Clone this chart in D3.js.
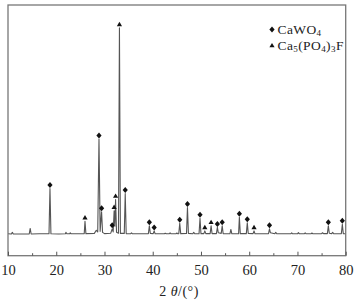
<!DOCTYPE html>
<html><head><meta charset="utf-8">
<script src="https://cdn.jsdelivr.net/npm/d3@7"></script>
<style>body{margin:0;background:#fff}svg{display:block}</style>
</head><body>
<script>
// XRD pattern points (2θ, intensity)
const xrdTheta = [10,10.7,10.9,11.1,12.5,14.4,14.6,14.8,16.5,18.5,18.7,18.9,20.5,21.9,22.0,22.2,22.8,22.9,23.1,25.0,25.8,25.96,26.15,27.9,28.3,28.6,28.86,29.1,29.4,29.6,30.0,31.3,31.6,31.8,32.0,32.15,32.3,32.5,32.9,33.1,33.3,34.1,34.3,34.5,35.4,35.6,35.8,37.5,39.1,39.3,39.5,40.1,40.3,40.5,42.4,42.6,42.8,43.4,43.6,43.8,44.8,45.0,45.2,45.4,45.6,45.8,47.0,47.2,47.4,48.3,48.5,48.7,49.6,49.8,50.0,50.6,50.8,51.0,51.9,52.1,52.3,53.2,53.4,53.6,54.2,54.4,54.6,56.0,56.2,56.4,57.8,57.96,58.15,59.4,59.6,59.8,60.8,61.0,61.2,62.5,64.0,64.2,64.4,65.3,65.5,65.7,67.0,68.6,68.8,69.0,70.0,70.2,70.4,71.4,71.6,71.8,72.8,73.0,73.2,75.0,75.2,75.4,76.2,76.4,76.6,77.1,77.3,77.5,79.1,79.3,79.5,80];
const xrdIntensity = [3,2,10,2,2,2,29,2,3,3,222,3,2,3,10,3,3,8,3,3,4,64,4,5,20,12,462,15,110,10,4,6,27,12,115,40,169,10,6,1000,5,5,198,4,3,8,3,3,4,42,5,4,17,3,3,6,3,3,8,3,3,7,3,4,54,4,5,130,5,3,10,3,4,78,4,4,17,4,4,42,4,4,34,8,5,42,4,3,24,3,4,83,4,4,56,5,4,17,3,3,4,27,8,3,10,3,3,3,8,3,3,9,3,3,8,3,3,7,3,4,8,4,4,42,6,4,10,3,4,49,4,3];

// CaWO4 markers (♦)
const cawo4Theta = [18.7,28.86,29.4,31.6,34.3,39.3,40.3,45.6,47.2,49.8,53.4,54.4,57.96,59.6,64.2,76.4,79.3];
const cawo4Intensity = [222,462,110,27,198,42,17,54,130,78,34,42,83,56,27,42,49];
// Ca5(PO4)3F markers (▲)
const fapTheta = [25.96,32.0,32.3,33.1,50.8,52.1,61.0];
const fapIntensity = [64,115,169,1000,17,42,17];

const xTicks = [10,20,30,40,50,60,70,80];
const xMinorTicks = [15,25,35,45,55,65,75];

const W = 360, H = 302;
const mLeft = 8, mRight = 345.7, mTop = 5, mBottom = 255.7;

const svg = d3.select("body").append("svg").attr("width", W).attr("height", H);

const x = d3.scaleLinear().domain([10, 80]).range([mLeft, mRight]);
const y = d3.scaleLinear().domain([-103, 1111]).range([mBottom, mTop]);

// line
const line = d3.line().x((d) => x(d[0])).y((d) => y(d[1]));
const pts = xrdTheta.map((t, i) => [t, xrdIntensity[i]]);
svg.append("path").datum(pts).attr("d", line)
  .attr("fill", "none").attr("stroke", "#555").attr("stroke-width", 1.1).attr("stroke-linejoin", "round");

// frame
svg.append("rect").attr("x", mLeft).attr("y", mTop).attr("width", mRight - mLeft).attr("height", mBottom - mTop)
  .attr("fill", "none").attr("stroke", "#777").attr("stroke-width", 1.3);

// axis
const serif = "'Liberation Serif', 'Times New Roman', serif";
const axis = d3.axisBottom(x).tickValues(xTicks).tickSize(-4).tickPadding(9).tickFormat(d3.format("d"));
const ag = svg.append("g").attr("transform", `translate(0,${mBottom})`).call(axis);
ag.select(".domain").remove();
ag.selectAll(".tick line").attr("stroke", "#555");
ag.selectAll(".tick text").attr("font-family", serif)
  .attr("font-size", 14.5).attr("fill", "#222");
const minor = d3.axisBottom(x).tickValues(xMinorTicks).tickSize(-2.5).tickFormat("");
const mg = svg.append("g").attr("transform", `translate(0,${mBottom})`).call(minor);
mg.select(".domain").remove();
mg.selectAll(".tick line").attr("stroke", "#555");

// markers
const diamond = "M0,-3L2.6,0L0,3L-2.6,0Z";
const tri = "M0,-2.6L2.6,1.8L-2.6,1.8Z";
svg.append("g").selectAll("path").data(cawo4Theta).join("path")
  .attr("d", diamond).attr("fill", "#111")
  .attr("transform", (d, i) => `translate(${x(d)},${y(cawo4Intensity[i]) - 3.5})`);
svg.append("g").selectAll("path").data(fapTheta).join("path")
  .attr("d", tri).attr("fill", "#111")
  .attr("transform", (d, i) => `translate(${x(d)},${y(fapIntensity[i]) - 3.5})`);

// legend
svg.append("path").attr("d", diamond).attr("fill", "#111").attr("transform", "translate(272,29.5)");
const t1 = svg.append("text").attr("x", 277.5).attr("y", 34).attr("font-family", serif).attr("font-size", 13.5)
  .attr("letter-spacing", 0.4).attr("fill", "#222");
t1.append("tspan").text("CaWO");
t1.append("tspan").attr("font-size", 9).attr("dy", 2).text("4");
svg.append("path").attr("d", tri).attr("fill", "#111").attr("transform", "translate(272,45.5)");
const t2 = svg.append("text").attr("x", 277.5).attr("y", 50).attr("font-family", serif).attr("font-size", 13.5)
  .attr("letter-spacing", 0.4).attr("fill", "#222");
t2.append("tspan").text("Ca");
t2.append("tspan").attr("font-size", 9).attr("dy", 2).text("5");
t2.append("tspan").attr("dy", -2).text("(PO");
t2.append("tspan").attr("font-size", 9).attr("dy", 2).text("4");
t2.append("tspan").attr("dy", -2).text(")");
t2.append("tspan").attr("font-size", 9).attr("dy", 2).text("3");
t2.append("tspan").attr("dy", -2).text("F");

// axis title
const tt = svg.append("text").attr("x", 179).attr("y", 296).attr("text-anchor", "middle")
  .attr("font-family", serif).attr("font-size", 14).attr("letter-spacing", 0.5).attr("fill", "#222");
tt.append("tspan").text("2 ");
tt.append("tspan").attr("font-style", "italic").text("θ");
tt.append("tspan").text("/(°)");
</script>
</body></html>
